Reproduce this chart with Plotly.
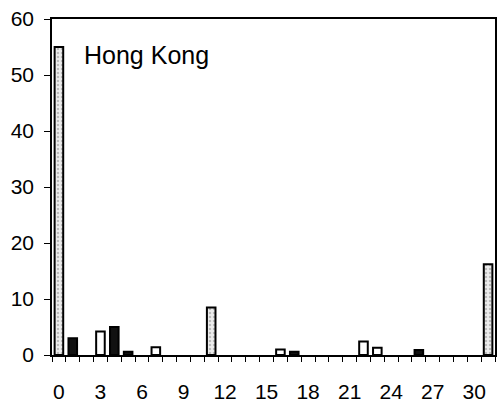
import plotly.graph_objects as go

categories = list(range(32))
tick_labels = [str(v) for v in range(0, 31, 3)]

# values per bar style group (None = no bar)
shaded_values = [55, None, None, None, None, None, None, None, None, None, None, 8.5,
                 None, None, None, None, None, None, None, None, None, None, None, None,
                 None, None, None, None, None, None, None, 16.2]
dark_values = [None, 3.0, None, None, 5.0, 0.6, None, None, None, None, None, None,
               None, None, None, None, None, 0.6, None, None, None, None, None, None,
               None, None, 0.9, None, None, None, None, None]
open_values = [None, None, None, 4.2, None, None, None, 1.4, None, None, None, None,
               None, None, None, None, 1.0, None, None, None, None, None, 2.4, 1.3,
               None, None, None, None, None, None, None, None]

FONT = "Liberation Sans, Arial, Helvetica, sans-serif"

fig = go.Figure()
fig.add_trace(go.Bar(
    x=categories, y=shaded_values, width=0.62, name="shaded",
    marker=dict(color="#d9d9d9", line=dict(color="black", width=2),
                pattern=dict(shape=".", fgcolor="#8a8a8a", bgcolor="#ececec", size=4, solidity=0.3)),
))
fig.add_trace(go.Bar(
    x=categories, y=dark_values, width=0.62, name="dark",
    marker=dict(color="#111111", line=dict(color="black", width=2)),
))
fig.add_trace(go.Bar(
    x=categories, y=open_values, width=0.62, name="open",
    marker=dict(color="white", line=dict(color="black", width=2)),
))

boundaries = [c - 0.5 for c in categories] + [categories[-1] + 0.5]
# invisible helper trace so the boundary-tick axis is drawn
fig.add_trace(go.Scatter(
    x=boundaries, y=[0] * len(boundaries), xaxis="x2", yaxis="y",
    mode="lines", opacity=0, hoverinfo="skip", showlegend=False,
))

fig.add_annotation(
    text="Hong Kong", xref="paper", yref="y", x=0.068, y=53.6,
    xanchor="left", yanchor="middle", showarrow=False,
    font=dict(family=FONT, size=25, color="black"),
)

fig.update_layout(
    width=504, height=405,
    margin=dict(l=52, r=9, t=19, b=50),
    paper_bgcolor="white", plot_bgcolor="white",
    barmode="overlay", showlegend=False,
    font=dict(family=FONT, size=21, color="black"),
    xaxis=dict(
        range=[-0.5, 31.5], automargin=False,
        tickmode="array", tickvals=list(range(0, 31, 3)), ticktext=tick_labels,
        ticks="outside", ticklen=17, tickcolor="rgba(0,0,0,0)",
        showline=True, linecolor="black", linewidth=1.5, mirror=True,
        showgrid=False, zeroline=False,
    ),
    xaxis2=dict(
        overlaying="x", anchor="y", side="bottom", range=[-0.5, 31.5], automargin=False,
        tickmode="array", tickvals=boundaries, showticklabels=False,
        ticks="outside", ticklen=6, tickcolor="black", tickwidth=1,
        showline=False, showgrid=False, zeroline=False,
    ),
    yaxis=dict(
        range=[0, 60], dtick=10, automargin=False,
        ticks="outside", ticklen=6, tickcolor="black", tickwidth=1,
        ticklabelstandoff=6,
        showline=True, linecolor="black", linewidth=1.5, mirror=True,
        showgrid=False, zeroline=False,
    ),
)

fig.write_html("out.html")
